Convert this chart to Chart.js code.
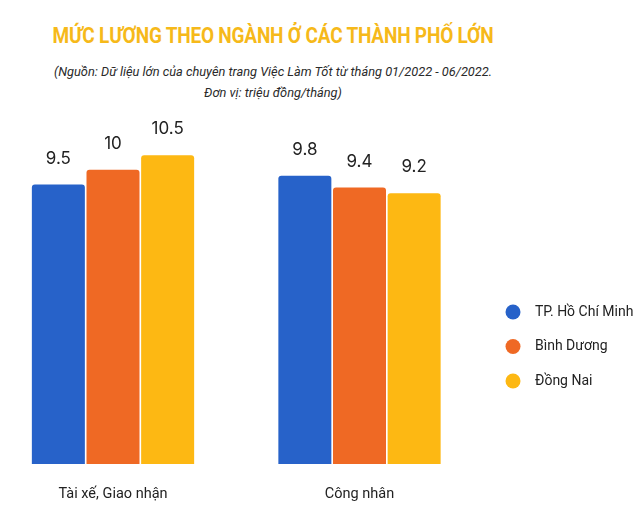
<!DOCTYPE html>
<html>
<head>
<meta charset="utf-8">
<script src="https://cdn.jsdelivr.net/npm/chart.js@4"></script>
<style>
  body { margin: 0; background: #fff; }
  #wrap { position: relative; width: 640px; height: 509px; }
  #title {
    position: absolute; left: 0; top: 24px; width: 546px; text-align: center;
    font: 700 19px/24px Roboto, sans-serif; color: #F6B91A; letter-spacing: -0.2px;
    transform: scaleY(1.12);
  }
  #sub {
    position: absolute; left: 0; top: 61px; width: 546px; text-align: center;
    font: italic 12.8px/21px Roboto, sans-serif; color: #2a2a2a;
  }
  canvas { position: absolute; left: 0; top: 0; }
</style>
</head>
<body>
<div id="wrap">
  <div id="title">MỨC LƯƠNG THEO NGÀNH Ở CÁC THÀNH PHỐ LỚN</div>
  <div id="sub">(Nguồn: Dữ liệu lớn của chuyên trang Việc Làm Tốt từ tháng 01/2022 - 06/2022.<br>Đơn vị: triệu đồng/tháng)</div>
  <canvas id="myChart" width="640" height="509"></canvas>
</div>
<script>
const categories = ["Tài xế, Giao nhận", "Công nhân"];
const cities = ["TP. Hồ Chí Minh", "Bình Dương", "Đồng Nai"];
const hcm = [9.5, 9.8];
const binhDuong = [10, 9.4];
const dongNai = [10.5, 9.2];
const colors = ["#2762C9", "#EF6924", "#FDB813"];

// value above each bar
const valueLabels = {
  id: "valueLabels",
  afterDatasetsDraw(chart) {
    const ctx = chart.ctx;
    ctx.save();
    ctx.font = "17px Inter, sans-serif";
    ctx.fillStyle = "#222";
    ctx.textAlign = "center";
    ctx.textBaseline = "middle";
    chart.data.datasets.forEach((ds, i) => {
      chart.getDatasetMeta(i).data.forEach((bar, j) => {
        ctx.fillText(String(ds.data[j]), bar.x, bar.y - 26);
      });
    });
    ctx.restore();
  },
};

// legend on the right with round markers
const sideLegend = {
  id: "sideLegend",
  afterDraw(chart) {
    const ctx = chart.ctx;
    ctx.save();
    ctx.font = "14px Roboto, sans-serif";
    ctx.textBaseline = "middle";
    chart.data.datasets.forEach((ds, i) => {
      const y = 312 + i * 34.5;
      ctx.fillStyle = ds.backgroundColor;
      ctx.beginPath();
      ctx.arc(513, y, 7.5, 0, Math.PI * 2);
      ctx.fill();
      ctx.fillStyle = "#222";
      ctx.fillText(ds.label, 535, y);
    });
    ctx.restore();
  },
};

const ctx = document.getElementById("myChart");

new Chart(ctx, {
  type: "bar",
  data: {
    labels: categories,
    datasets: [hcm, binhDuong, dongNai].map((d, i) => ({
      label: cities[i],
      data: d,
      backgroundColor: colors[i],
      borderRadius: { topLeft: 3, topRight: 3 },
      borderSkipped: "bottom",
      categoryPercentage: 0.665,
      barPercentage: 0.97,
      clip: false,
    })),
  },
  options: {
    responsive: false,
    animation: false,
    layout: { padding: { left: 113, right: 280.5, top: 111, bottom: 6 } },
    plugins: {
      legend: { display: false },
      tooltip: { enabled: false },
    },
    scales: {
      x: {
        offset: false,
        grid: { display: false, drawTicks: false },
        border: { display: false },
        ticks: { padding: 22, maxRotation: 0, color: "#222", font: { family: "Roboto", size: 14.5 } },
        afterFit(scale) { scale.height = 39; },
      },
      y: {
        display: false,
        min: 0,
        max: 12,
      },
    },
  },
  plugins: [valueLabels, sideLegend],
});
</script>
</body>
</html>
